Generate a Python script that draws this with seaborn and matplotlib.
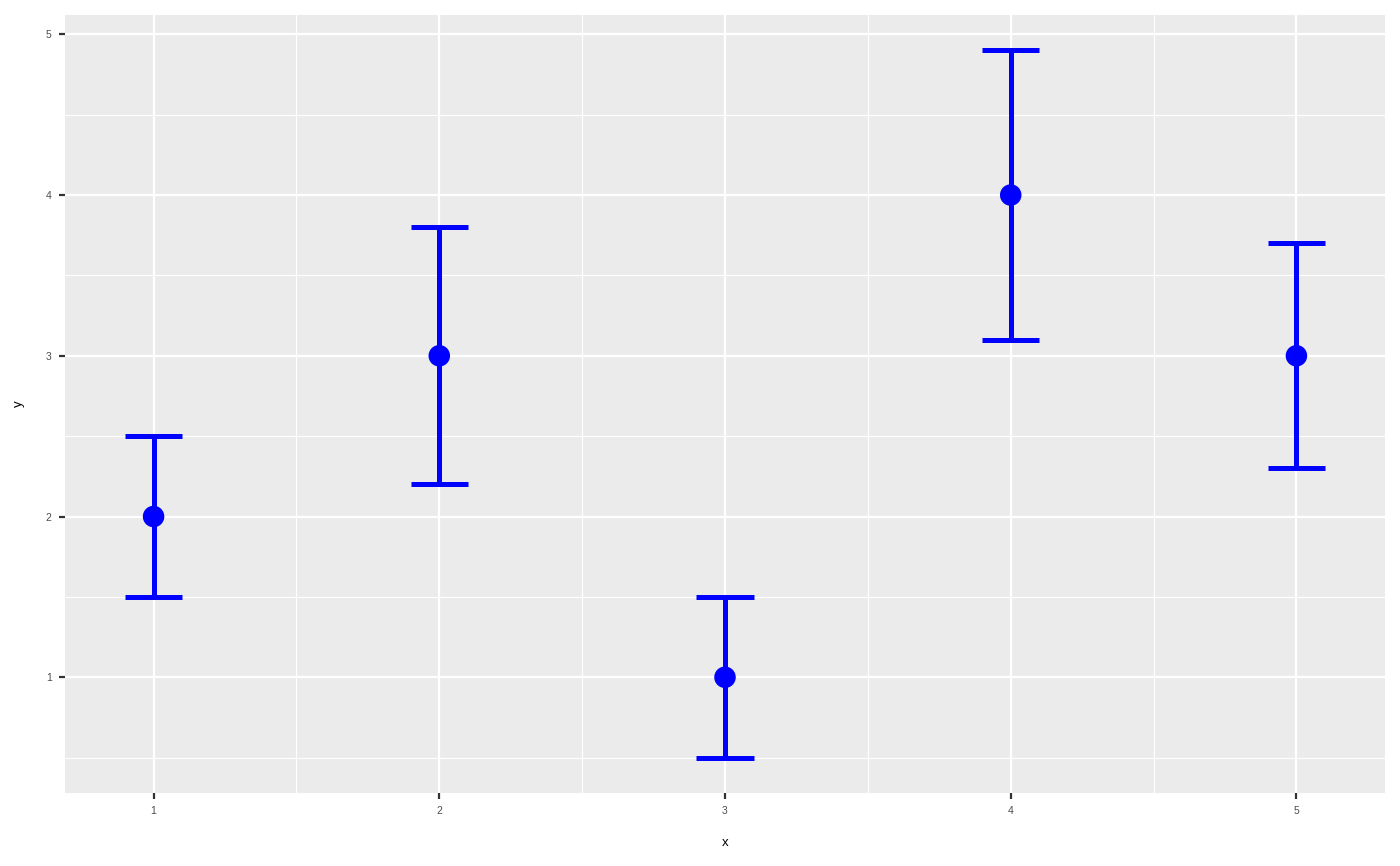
import numpy as np
import pandas as pd
import seaborn as sns
import matplotlib.pyplot as plt
from matplotlib.ticker import MultipleLocator

x = [1, 2, 3, 4, 5]
y = [2, 3, 1, 4, 3]
ymin = [1.5, 2.2, 0.5, 3.1, 2.3]
ymax = [2.5, 3.8, 1.5, 4.9, 3.7]

df = pd.DataFrame({"x": x, "y": y, "ymin": ymin, "ymax": ymax})

sns.set_theme(style="darkgrid")
plt.rcParams["font.family"] = ["Liberation Sans", "DejaVu Sans"]

fig = plt.figure(figsize=(14, 8.66), dpi=100)
ax = fig.add_axes([65 / 1400, 73 / 866, 1320 / 1400, 778 / 866])
ax.set_facecolor("#EBEBEB")

# error bars: vertical stem + caps (width 0.2 in data units)
ax.vlines(df["x"], df["ymin"], df["ymax"], color="blue", lw=3.6, zorder=3)
ax.hlines(df["ymin"], df["x"] - 0.1, df["x"] + 0.1, color="blue", lw=3.6, zorder=3)
ax.hlines(df["ymax"], df["x"] - 0.1, df["x"] + 0.1, color="blue", lw=3.6, zorder=3)
sns.scatterplot(data=df, x="x", y="y", color="blue", s=240, edgecolor="none", ax=ax, zorder=4)

ax.set_xlim(0.69, 5.31)
ax.set_ylim(0.28, 5.12)
ax.xaxis.set_major_locator(MultipleLocator(1))
ax.yaxis.set_major_locator(MultipleLocator(1))
ax.xaxis.set_minor_locator(MultipleLocator(0.5))
ax.yaxis.set_minor_locator(MultipleLocator(0.5))
ax.grid(which="major", color="white", lw=1.6)
ax.grid(which="minor", color="white", lw=0.8)
ax.set_axisbelow(True)
for s in ax.spines.values():
    s.set_visible(False)

ax.tick_params(which="major", length=4, width=1.6, color="#333333",
               labelsize=7.5, labelcolor="#4D4D4D", pad=5.5, bottom=True, left=True)
ax.tick_params(which="minor", length=0)
ax.set_xlabel("x", fontsize=9.5, color="black", labelpad=15)
ax.set_ylabel("y", fontsize=9.5, color="black", labelpad=15)

fig.savefig("out.png", dpi=100)
